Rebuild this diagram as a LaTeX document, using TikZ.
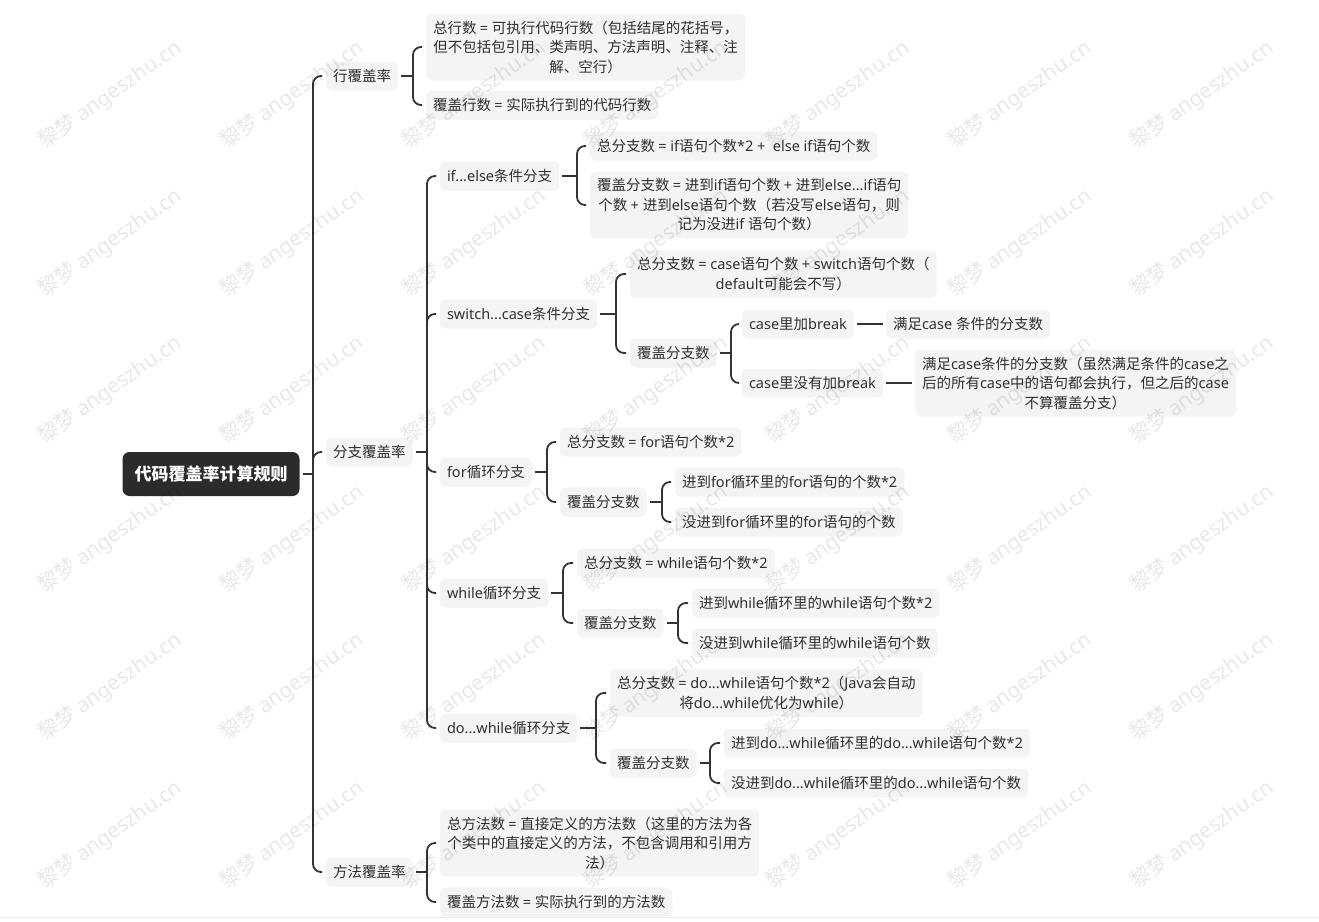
\documentclass[tikz,border=0pt]{standalone}
\usepackage{fontspec}
\setmainfont{Noto Sans}
\newfontfamily\cjkf{Noto Sans CJK SC}
\newfontfamily\latf{Noto Sans}
\newfontfamily\wmlatin{Liberation Sans}
% switch automatically between Latin and CJK fonts
\XeTeXinterchartokenstate=1
\newXeTeXintercharclass\CJKcls
\count255="4E00
\loop\XeTeXcharclass\count255=\CJKcls\ifnum\count255<"9FFF\advance\count255 by 1\repeat
\count255="3000
\loop\XeTeXcharclass\count255=\CJKcls\ifnum\count255<"303F\advance\count255 by 1\repeat
\count255="FF00
\loop\XeTeXcharclass\count255=\CJKcls\ifnum\count255<"FFEF\advance\count255 by 1\repeat
\XeTeXinterchartoks 0 \CJKcls = {\cjkf}
\XeTeXinterchartoks 4095 \CJKcls = {\cjkf}
\XeTeXinterchartoks \CJKcls 0 = {\latf}
\XeTeXinterchartoks 4095 0 = {\latf}
\usetikzlibrary{calc}
\definecolor{boxfill}{HTML}{F5F3F3}
\definecolor{rootfill}{HTML}{2B2B2B}
\definecolor{linec}{HTML}{333333}
\definecolor{textc}{HTML}{2F2F2F}
\tikzset{
  topic/.style={fill=boxfill, rounded corners=6pt, inner xsep=7pt, inner ysep=7pt,
    minimum height=29pt, align=center, text=textc,
    font=\fontsize{14.5}{19.5}\selectfont, outer sep=0pt, anchor=west},
  rootbox/.style={fill=rootfill, rounded corners=7pt, text=white,
    font=\fontsize{17}{20}\selectfont\bfseries, minimum height=44pt,
    inner xsep=12pt, outer sep=0pt},
  conn/.style={draw=linec, line width=1.8pt},
  stub/.style={conn, shorten <=3pt},
  branch/.style={conn, rounded corners=8pt, shorten >=4pt},
  wm/.style={rotate=35.4, text=black, text opacity=0.09,
    font=\fontsize{21}{21}\selectfont}
}
\begin{document}
\begin{tikzpicture}[x=1pt, y=-1pt]
\useasboundingbox (0,0) rectangle (1319,921);
\draw[black!7, line width=1pt] (0,917.5) -- (1319,917.5);

% root and first level
\node[rootbox] (root) at (211,474) {代码覆盖率计算规则};
\node[topic] (hang) at (326,76) {行覆盖率};
\node[topic] (fz) at (326,452) {分支覆盖率};
\node[topic] (ff) at (326,872) {方法覆盖率};
\coordinate (j0) at (313,474);
\draw[stub] (root.east) -- (j0);
\foreach \c in {hang,fz,ff} \draw[branch] (j0) |- (\c.west);

% line coverage
\node[topic] (a1) at (426,47) {总行数 = 可执行代码行数（包括结尾的花括号，\\但不包括包引用、类声明、方法声明、注释、注\\解、空行）};
\node[topic] (a2) at (426,105) {覆盖行数 = 实际执行到的代码行数};
\coordinate (ja) at (413,76);
\draw[stub] (hang.east) -- (ja);
\foreach \c in {a1,a2} \draw[branch] (ja) |- (\c.west);

% branch coverage
\node[topic] (b1) at (440,176) {if...else条件分支};
\node[topic] (b2) at (440,314) {switch...case条件分支};
\node[topic] (b3) at (440,472) {for循环分支};
\node[topic] (b4) at (440,593) {while循环分支};
\node[topic] (b5) at (440,728) {do...while循环分支};
\coordinate (jb) at (427,452);
\draw[stub] (fz.east) -- (jb);
\foreach \c in {b1,b2,b3,b4,b5} \draw[branch] (jb) |- (\c.west);

% if...else
\node[topic] (b1a) at (590,146) {总分支数 = if语句个数*2 +\ \ else if语句个数};
\node[topic] (b1b) at (590,205) {覆盖分支数 = 进到if语句个数 + 进到else...if语句\\个数 + 进到else语句个数（若没写else语句，则\\记为没进if 语句个数）};
\coordinate (jb1) at (577,176);
\draw[stub] (b1.east) -- (jb1);
\foreach \c in {b1a,b1b} \draw[branch] (jb1) |- (\c.west);

% switch...case
\node[topic] (b2a) at (630,274) {总分支数 = case语句个数 + switch语句个数（\\default可能会不写）};
\node[topic] (b2b) at (630,353) {覆盖分支数};
\coordinate (jb2) at (616,314);
\draw[stub] (b2.east) -- (jb2);
\foreach \c in {b2a,b2b} \draw[branch] (jb2) |- (\c.west);

\node[topic] (s1) at (742,324) {case里加break};
\node[topic] (s2) at (742,383) {case里没有加break};
\coordinate (js) at (731,353);
\draw[stub] (b2b.east) -- (js);
\foreach \c in {s1,s2} \draw[branch] (js) |- (\c.west);

\node[topic] (s1a) at (886,324) {满足case 条件的分支数};
\node[topic] (s2a) at (915,383) {满足case条件的分支数（虽然满足条件的case之\\后的所有case中的语句都会执行，但之后的case\\不算覆盖分支）};
\draw[conn, shorten <=3pt, shorten >=3pt] (s1.east) -- (s1a.west);
\draw[conn, shorten <=3pt, shorten >=3pt] (s2.east) -- (s2a.west);

% for
\node[topic] (b3a) at (560,442) {总分支数 = for语句个数*2};
\node[topic] (b3b) at (560,502) {覆盖分支数};
\coordinate (jb3) at (547,472);
\draw[stub] (b3.east) -- (jb3);
\foreach \c in {b3a,b3b} \draw[branch] (jb3) |- (\c.west);
\node[topic] (f1) at (675,482) {进到for循环里的for语句的个数*2};
\node[topic] (f2) at (675,522) {没进到for循环里的for语句的个数};
\coordinate (jf) at (662,502);
\draw[stub] (b3b.east) -- (jf);
\foreach \c in {f1,f2} \draw[branch] (jf) |- (\c.west);

% while
\node[topic] (b4a) at (577,563) {总分支数 = while语句个数*2};
\node[topic] (b4b) at (577,623) {覆盖分支数};
\coordinate (jb4) at (563,593);
\draw[stub] (b4.east) -- (jb4);
\foreach \c in {b4a,b4b} \draw[branch] (jb4) |- (\c.west);
\node[topic] (w1) at (692,603) {进到while循环里的while语句个数*2};
\node[topic] (w2) at (692,643) {没进到while循环里的while语句个数};
\coordinate (jw) at (678,623);
\draw[stub] (b4b.east) -- (jw);
\foreach \c in {w1,w2} \draw[branch] (jw) |- (\c.west);

% do...while
\node[topic] (b5a) at (610,693) {总分支数 = do...while语句个数*2（Java会自动\\将do...while优化为while）};
\node[topic] (b5b) at (610,763) {覆盖分支数};
\coordinate (jb5) at (596,728);
\draw[stub] (b5.east) -- (jb5);
\foreach \c in {b5a,b5b} \draw[branch] (jb5) |- (\c.west);
\node[topic] (d1) at (724,743) {进到do...while循环里的do...while语句个数*2};
\node[topic] (d2) at (724,783) {没进到do...while循环里的do...while语句个数};
\coordinate (jd) at (710,763);
\draw[stub] (b5b.east) -- (jd);
\foreach \c in {d1,d2} \draw[branch] (jd) |- (\c.west);

% method coverage
\node[topic] (c1) at (440,843) {总方法数 = 直接定义的方法数（这里的方法为各\\个类中的直接定义的方法，不包含调用和引用方\\法）};
\node[topic] (c2) at (440,902) {覆盖方法数 = 实际执行到的方法数};
\coordinate (jc) at (427,872);
\draw[stub] (ff.east) -- (jc);
\foreach \c in {c1,c2} \draw[branch] (jc) |- (\c.west);

% watermark
\foreach \i/\x in {1/110,2/292,3/474,4/656,5/838,6/1020,7/1202}
  \foreach \j/\y in {1/95,2/243,3/390,4/539,5/687,6/835}
    \node[wm] (wm\i\j) at (\x,\y) {黎梦 {\wmlatin angeszhu.cn}};
\end{tikzpicture}
\end{document}
